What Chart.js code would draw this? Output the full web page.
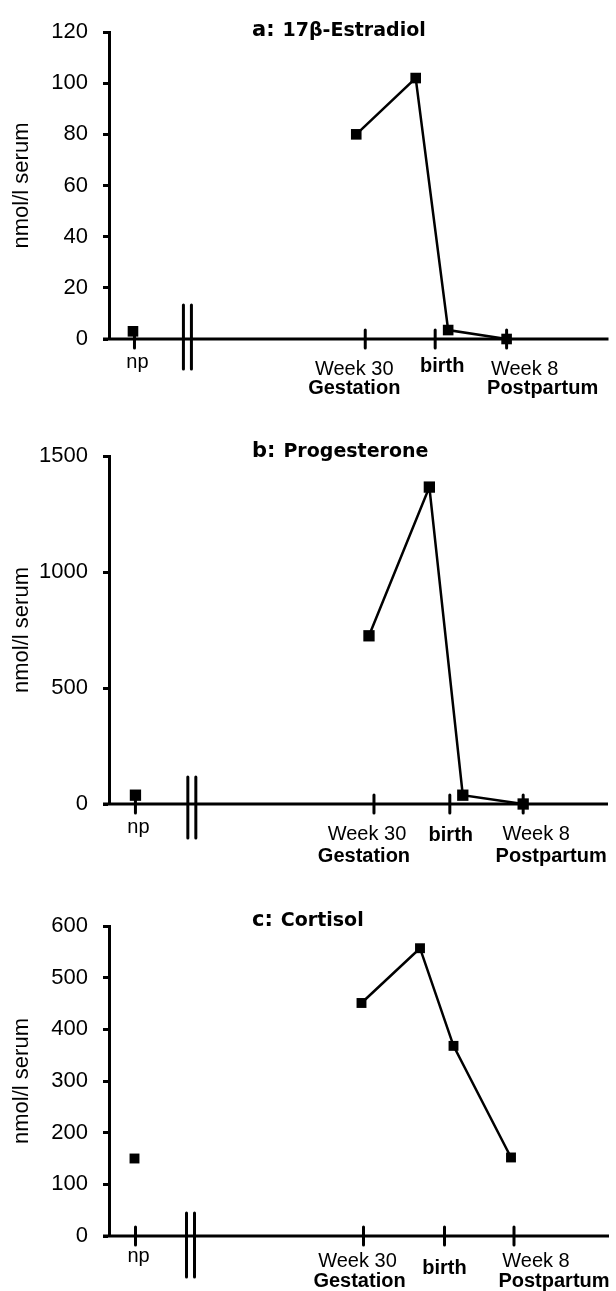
<!DOCTYPE html>
<html>
<head>
<meta charset="utf-8">
<script src="https://cdn.jsdelivr.net/npm/chart.js@4.4.1/dist/chart.umd.min.js"></script>
<style>
  html, body { margin: 0; padding: 0; background: #fff; }
  body { width: 616px; height: 1291px; position: relative; overflow: hidden; }
  canvas { position: absolute; left: 0; }
</style>
</head>
<body>
<canvas id="chartA" width="616" height="410" style="top:0px"></canvas>
<canvas id="chartB" width="616" height="460" style="top:410px"></canvas>
<canvas id="chartC" width="616" height="421" style="top:870px"></canvas>
<script>
// x values are positions on the time line: 0 = left end of the axis, 100 = right end
const tickLabels = ["np", "Week 30", "birth", "Week 8"];
const tickBold = [false, false, true, false];
const subLabels = ["", "Gestation", "", "Postpartum"];

const estradiolTicks = [5.1, 51.3, 65.3, 79.6];
const estradiolBreak = 15.7;
const estradiolNpX = [4.8];
const estradiolNp = [3];
const estradiolX = [49.5, 61.4, 67.9, 79.6];
const estradiolY = [80, 102, 3.5, 0];
const estradiolMax = 120;
const estradiolStep = 20;

const progesteroneTicks = [5.3, 53.1, 68.3, 83.0];
const progesteroneBreak = 16.6;
const progesteroneNpX = [5.3];
const progesteroneNp = [38];
const progesteroneX = [52.1, 64.2, 70.9, 83.0];
const progesteroneY = [725, 1366, 38, 0];
const progesteroneMax = 1500;
const progesteroneStep = 500;

const cortisolTicks = [5.3, 50.9, 67.1, 81.0];
const cortisolBreak = 16.3;
const cortisolNpX = [5.1];
const cortisolNp = [150];
const cortisolX = [50.5, 62.2, 68.9, 80.4];
const cortisolY = [451, 557, 368, 152];
const cortisolMax = 600;
const cortisolStep = 100;

const timelinePlugin = {
  id: "timeline",
  beforeDatasetsDraw(chart, args, opts) {
    const { ctx, chartArea, scales: { x, y } } = chart;
    const y0 = y.getPixelForValue(0);
    ctx.save();
    ctx.strokeStyle = "#000";
    ctx.lineWidth = 3;
    ctx.beginPath();
    ctx.moveTo(chartArea.left - 6, y0);
    ctx.lineTo(chartArea.right, y0);
    ctx.stroke();
    ctx.lineCap = "round";
    opts.ticks.forEach((v) => {
      const px = x.getPixelForValue(v);
      ctx.beginPath();
      ctx.moveTo(px, y0 - 9);
      ctx.lineTo(px, y0 + 9);
      ctx.stroke();
    });
    const bx = x.getPixelForValue(opts.breakAt);
    [-4, 4].forEach((d) => {
      ctx.beginPath();
      ctx.moveTo(bx + d, y0 - opts.breakUp);
      ctx.lineTo(bx + d, y0 + opts.breakDown);
      ctx.stroke();
    });
    ctx.restore();
  },
  afterDraw(chart, args, opts) {
    const { ctx, scales: { x, y } } = chart;
    const y0 = y.getPixelForValue(0);
    ctx.save();
    ctx.fillStyle = "#000";
    ctx.textAlign = "center";
    ctx.textBaseline = "alphabetic";
    tickLabels.forEach((label, i) => {
      const px = x.getPixelForValue(opts.ticks[i]);
      ctx.font = (tickBold[i] ? "bold " : "") + "20px 'Liberation Sans', Arial, sans-serif";
      ctx.fillText(label, px + opts.labelDx[i], y0 + opts.labelDy[i]);
      if (subLabels[i]) {
        ctx.font = "bold 20px 'Liberation Sans', Arial, sans-serif";
        ctx.fillText(subLabels[i], px + opts.subDx[i], y0 + opts.subDy);
      }
    });
    // panel title
    ctx.textAlign = "left";
    ctx.font = "bold 21px 'DejaVu Sans', sans-serif";
    ctx.fillText(opts.prefix, 252, opts.titleY);
    const w = ctx.measureText(opts.prefix).width;
    ctx.font = "bold 19px 'DejaVu Sans', sans-serif";
    ctx.fillText(opts.title, 252 + w + 8, opts.titleY);
    ctx.restore();
  },
};

function makeChart(id, cfg) {
  const ctx = document.getElementById(id).getContext("2d");
  return new Chart(ctx, {
    type: "line",
    data: {
      datasets: [
        {
          data: cfg.xs.map((v, i) => ({ x: v, y: cfg.ys[i] })),
          borderColor: "#000",
          borderWidth: 2.5,
          backgroundColor: "#000",
          pointStyle: "rect",
          pointRadius: cfg.radius,
          pointBackgroundColor: "#000",
          pointBorderWidth: 0,
          tension: 0,
          clip: false,
        },
        {
          data: cfg.npX.map((v, i) => ({ x: v, y: cfg.np[i] })),
          showLine: false,
          backgroundColor: "#000",
          pointStyle: "rect",
          pointRadius: cfg.radius,
          pointBackgroundColor: "#000",
          pointBorderWidth: 0,
          clip: false,
        },
      ],
    },
    options: {
      responsive: false,
      animation: false,
      events: [],
      layout: { padding: { top: cfg.padTop, bottom: cfg.padBottom, left: 0, right: 2 } },
      scales: {
        x: { type: "linear", min: 0, max: 100, display: false },
        y: {
          min: 0,
          max: cfg.max,
          afterFit: (scale) => {
            scale.width = 109;
          },
          ticks: {
            stepSize: cfg.step,
            padding: 15,
            color: "#000",
            callback: (value) => String(value),
            font: { family: "'Liberation Sans', Arial, sans-serif", size: 22 },
          },
          grid: {
            drawOnChartArea: false,
            drawTicks: true,
            tickLength: 6,
            tickWidth: 3,
            tickColor: "#000",
          },
          border: { display: true, color: "#000", width: 3 },
          title: {
            display: true,
            text: "nmol/l serum",
            color: "#000",
            padding: { top: 9, bottom: 0 },
            font: { family: "'Liberation Sans', Arial, sans-serif", size: 22 },
          },
        },
      },
      plugins: {
        legend: { display: false },
        tooltip: { enabled: false },
        timeline: cfg.timeline,
      },
    },
    plugins: [timelinePlugin],
  });
}

makeChart("chartA", {
  xs: estradiolX, ys: estradiolY, npX: estradiolNpX, np: estradiolNp,
  max: estradiolMax, step: estradiolStep, radius: 7.5,
  padTop: 32, padBottom: 71,
  timeline: {
    ticks: estradiolTicks, breakAt: estradiolBreak, breakUp: 34, breakDown: 30,
    labelDx: [3, -11, 7, 18], labelDy: [29, 36, 33, 36], subDx: [0, -11, 0, 36], subDy: 55,
    prefix: "a:", title: "17β-Estradiol", titleY: 36,
  },
});

makeChart("chartB", {
  xs: progesteroneX, ys: progesteroneY, npX: progesteroneNpX, np: progesteroneNp,
  max: progesteroneMax, step: progesteroneStep, radius: 8,
  padTop: 46, padBottom: 66,
  timeline: {
    ticks: progesteroneTicks, breakAt: progesteroneBreak, breakUp: 27, breakDown: 34,
    labelDx: [3, -7, 1, 13], labelDy: [29, 36, 37, 36], subDx: [0, -10, 0, 28], subDy: 58,
    prefix: "b:", title: "Progesterone", titleY: 47,
  },
});

makeChart("chartC", {
  xs: cortisolX, ys: cortisolY, npX: cortisolNpX, np: cortisolNp,
  max: cortisolMax, step: cortisolStep, radius: 7,
  padTop: 56, padBottom: 55,
  timeline: {
    ticks: cortisolTicks, breakAt: cortisolBreak, breakUp: 23, breakDown: 41,
    labelDx: [3, -6, 0, 22], labelDy: [26, 31, 38, 31], subDx: [0, -4, 0, 40], subDy: 51,
    prefix: "c:", title: "Cortisol", titleY: 56,
  },
});
</script>
</body>
</html>
